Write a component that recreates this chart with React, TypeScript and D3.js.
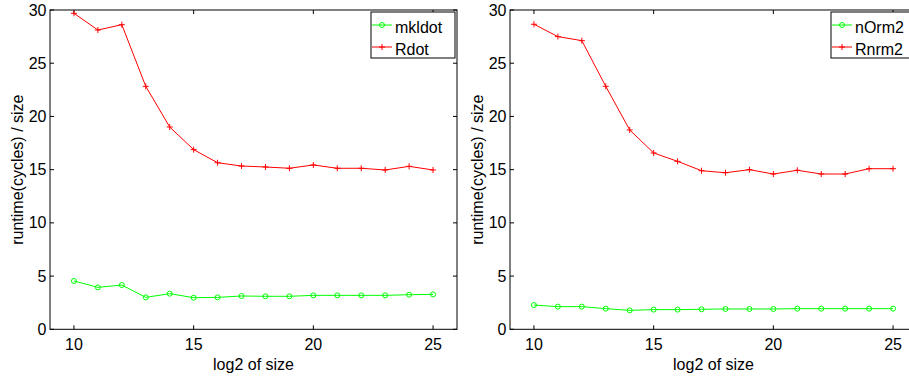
import React from "react";
import * as d3 from "d3";

const sizes = [10, 11, 12, 13, 14, 15, 16, 17, 18, 19, 20, 21, 22, 23, 24, 25];
const mkldot = [4.54, 3.94, 4.16, 3.0, 3.35, 2.97, 3.0, 3.13, 3.1, 3.1, 3.19, 3.19, 3.19, 3.19, 3.25, 3.28];
const rdot = [29.69, 28.12, 28.62, 22.83, 19.01, 16.88, 15.65, 15.34, 15.25, 15.13, 15.44, 15.13, 15.13, 14.97, 15.31, 14.97];
const norm2 = [2.28, 2.13, 2.13, 1.94, 1.78, 1.85, 1.85, 1.88, 1.91, 1.91, 1.91, 1.94, 1.94, 1.94, 1.94, 1.94];
const rnrm2 = [28.66, 27.5, 27.12, 22.83, 18.73, 16.57, 15.78, 14.9, 14.71, 15.0, 14.59, 14.94, 14.59, 14.59, 15.09, 15.09];

const xTicks = [10, 15, 20, 25];
const yTicks = [0, 5, 10, 15, 20, 25, 30];
const xDomain = [9, 26];
const yDomain = [0, 30];

const leftNames = ["mkldot", "Rdot"];
const rightNames = ["nOrm2", "Rnrm2"];

const GREEN = "#00ff00";
const RED = "#ff0000";
const FONT = "'Liberation Sans', Arial, Helvetica, sans-serif";

type PanelProps = {
  offsetX: number;
  green: number[];
  red: number[];
  names: string[];
};

const L = 50, R = 457, T = 10, B = 329.3;

function Plus({ x, y }: { x: number; y: number }) {
  return (
    <path d={`M${x - 3},${y}H${x + 3}M${x},${y - 3}V${y + 3}`} stroke={RED} strokeWidth={1} fill="none" />
  );
}

function Circ({ x, y }: { x: number; y: number }) {
  return <circle cx={x} cy={y} r={2.5} stroke={GREEN} strokeWidth={1} fill="none" />;
}

function Panel({ offsetX, green, red, names }: PanelProps) {
  const x = d3.scaleLinear().domain(xDomain).range([L, R]);
  const y = d3.scaleLinear().domain(yDomain).range([B, T]);
  const line = d3
    .line<number>()
    .x((_, i) => x(sizes[i]))
    .y((d) => y(d));
  const tl = 4;
  const lx = R - 86;
  const ly = T + 2;
  return (
    <g transform={`translate(${offsetX},0)`} fontFamily={FONT} fontSize={16} fill="#000">
      <rect x={L} y={T} width={R - L} height={B - T} fill="#fff" />
      {xTicks.map((t) => (
        <g key={"x" + t}>
          <line x1={x(t)} x2={x(t)} y1={B} y2={B - tl} stroke="#000" />
          <line x1={x(t)} x2={x(t)} y1={T} y2={T + tl} stroke="#000" />
          <text x={x(t)} y={350} textAnchor="middle">{t}</text>
        </g>
      ))}
      {yTicks.map((t) => (
        <g key={"y" + t}>
          <line x1={L} x2={L + tl} y1={y(t)} y2={y(t)} stroke="#000" />
          <line x1={R} x2={R - tl} y1={y(t)} y2={y(t)} stroke="#000" />
          <text x={46.5} y={y(t)} dy="0.35em" textAnchor="end">{t}</text>
        </g>
      ))}
      <path d={line(green) || ""} stroke={GREEN} strokeWidth={1} fill="none" />
      {green.map((v, i) => (
        <Circ key={"g" + i} x={x(sizes[i])} y={y(v)} />
      ))}
      <path d={line(red) || ""} stroke={RED} strokeWidth={1} fill="none" />
      {red.map((v, i) => (
        <Plus key={"r" + i} x={x(sizes[i])} y={y(v)} />
      ))}
      <rect x={L} y={T} width={R - L} height={B - T} fill="none" stroke="#000" strokeWidth={1} />
      <text x={(L + R) / 2} y={370} textAnchor="middle">log2 of size</text>
      <text transform={`translate(22.5,${(T + B) / 2}) rotate(-90)`} textAnchor="middle">
        runtime(cycles) / size
      </text>
      <g>
        <rect x={lx} y={ly} width={84} height={46} fill="#fff" stroke="#000" strokeWidth={1} />
        <line x1={lx + 1} x2={lx + 21} y1={ly + 13} y2={ly + 13} stroke={GREEN} />
        <Circ x={lx + 11} y={ly + 13} />
        <text x={lx + 24} y={ly + 20.5}>{names[0]}</text>
        <line x1={lx + 1} x2={lx + 21} y1={ly + 35} y2={ly + 35} stroke={RED} />
        <Plus x={lx + 11} y={ly + 35} />
        <text x={lx + 24} y={ly + 43}>{names[1]}</text>
      </g>
    </g>
  );
}

export default function App() {
  return (
    <svg
      width={909}
      height={377}
      style={{ position: "absolute", left: 0, top: 0, background: "#fff" }}
    >
      <rect width={909} height={377} fill="#fff" />
      <Panel offsetX={0} green={mkldot} red={rdot} names={leftNames} />
      <Panel offsetX={460} green={norm2} red={rnrm2} names={rightNames} />
    </svg>
  );
}
